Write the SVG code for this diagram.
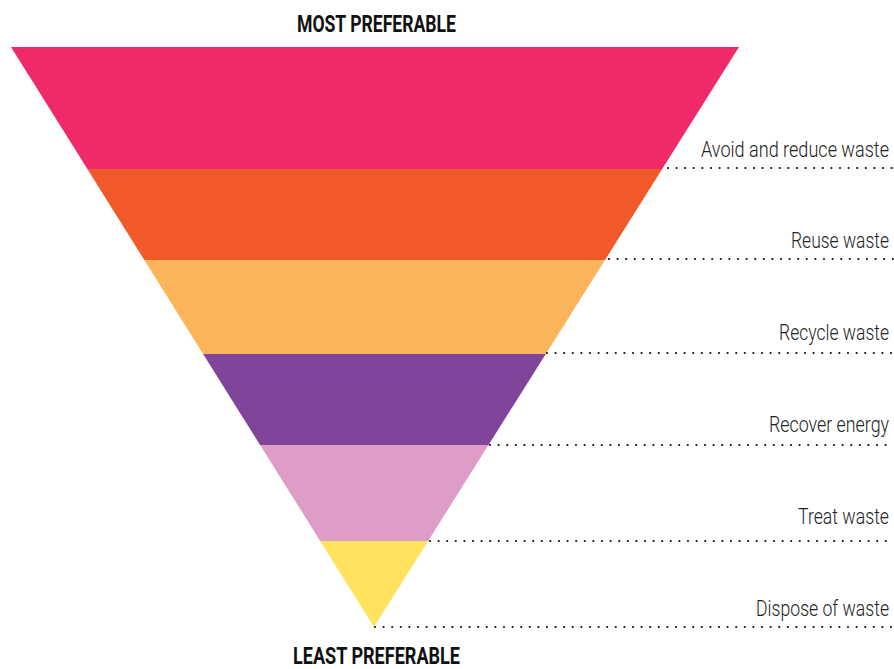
<svg xmlns="http://www.w3.org/2000/svg" width="894" height="669" viewBox="0 0 894 669">
  <style>
    .title { font-family: "Roboto", "Liberation Sans", sans-serif; font-weight: 700; font-size: 24px; fill: #111; }
    .label { font-family: "Roboto", "Liberation Sans", sans-serif; font-weight: 300; font-size: 22.5px; fill: #222; text-anchor: end; }
    .leader { stroke: #111; stroke-width: 2.2; stroke-linecap: round; stroke-dasharray: 0 8.6; fill: none; }
  </style>
  <rect width="894" height="669" fill="#ffffff"/>

  <text class="title" x="297" y="32" textLength="159" lengthAdjust="spacingAndGlyphs">MOST PREFERABLE</text>

  <!-- hierarchy bands, top to bottom; labels are set condensed by a horizontal scale -->
  <g id="avoid">
    <polygon points="11,47 739,47 662.2,169 87.4,169" fill="#F02A68"/>
    <g transform="translate(889,157) scale(0.8,1)">
      <text class="label" x="0" y="0" textLength="235" lengthAdjust="spacingAndGlyphs">Avoid and reduce waste</text>
    </g>
  </g>
  <g id="reuse">
    <polygon points="87.4,169 662.2,169 605,260 144.3,260" fill="#F1592A"/>
    <g transform="translate(889,248) scale(0.8,1)">
      <text class="label" x="0" y="0" textLength="122.5" lengthAdjust="spacingAndGlyphs">Reuse waste</text>
    </g>
  </g>
  <g id="recycle">
    <polygon points="144.3,260 605,260 545.8,354 203.1,354" fill="#FBB45A"/>
    <g transform="translate(889,340) scale(0.8,1)">
      <text class="label" x="0" y="0" textLength="137.5" lengthAdjust="spacingAndGlyphs">Recycle waste</text>
    </g>
  </g>
  <g id="recover">
    <polygon points="203.1,354 545.8,354 488.5,445 260.1,445" fill="#80449A"/>
    <g transform="translate(889,432) scale(0.8,1)">
      <text class="label" x="0" y="0" textLength="150" lengthAdjust="spacingAndGlyphs">Recover energy</text>
    </g>
  </g>
  <g id="treat">
    <polygon points="260.1,445 488.5,445 428.1,541 320.2,541" fill="#DE9DC7"/>
    <g transform="translate(889,524) scale(0.8,1)">
      <text class="label" x="0" y="0" textLength="113.75" lengthAdjust="spacingAndGlyphs">Treat waste</text>
    </g>
  </g>
  <g id="dispose">
    <polygon points="320.2,541 428.1,541 374,627" fill="#FFE25E"/>
    <g transform="translate(889,616) scale(0.8,1)">
      <text class="label" x="0" y="0" textLength="166.25" lengthAdjust="spacingAndGlyphs">Dispose of waste</text>
    </g>
  </g>

  <!-- dotted leaders from each band edge to its label -->
  <g id="connectors">
    <line class="leader" x1="668" y1="168" x2="893" y2="168"/>
    <line class="leader" x1="609" y1="259" x2="893" y2="259"/>
    <line class="leader" x1="547" y1="353" x2="893" y2="353"/>
    <line class="leader" x1="490" y1="445" x2="893" y2="445"/>
    <line class="leader" x1="430" y1="541" x2="893" y2="541"/>
    <line class="leader" x1="375" y1="627" x2="893" y2="627"/>
  </g>

  <text class="title" x="293" y="664" textLength="167" lengthAdjust="spacingAndGlyphs">LEAST PREFERABLE</text>
</svg>
